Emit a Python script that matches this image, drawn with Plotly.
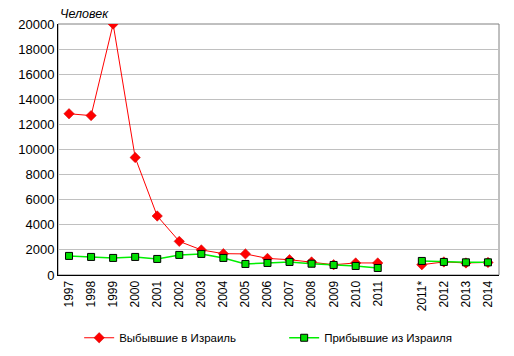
import plotly.graph_objects as go

categories = ["1997", "1998", "1999", "2000", "2001", "2002", "2003", "2004", "2005",
              "2006", "2007", "2008", "2009", "2010", "2011", " ", "2011*", "2012", "2013", "2014"]
departed = [12850, 12700, 20000, 9360, 4700, 2680, 2000, 1700, 1680,
            1320, 1220, 1040, 820, 960, 960, None, 820, 1040, 960, 1000]
arrived = [1520, 1440, 1360, 1440, 1280, 1600, 1680, 1360, 880,
           960, 1040, 900, 800, 720, 560, None, 1120, 1040, 1010, 1010]
y_ticks = list(range(0, 20001, 2000))
y_tick_labels = [str(v) for v in y_ticks]

font = "Liberation Sans, Arial, sans-serif"

fig = go.Figure()
fig.add_trace(go.Scatter(
    x=categories, y=departed, name="Выбывшие в Израиль", mode="lines+markers",
    line=dict(color="#ff0000", width=1),
    marker=dict(symbol="diamond", size=8, color="#ff0000", line=dict(color="#cc0000", width=0.5)),
    connectgaps=False,
))
fig.add_trace(go.Scatter(
    x=categories, y=arrived, name="Прибывшие из Израиля", mode="lines+markers",
    line=dict(color="#00ee00", width=1.5),
    marker=dict(symbol="square", size=7, color="#00e000", line=dict(color="#000000", width=1)),
    connectgaps=False,
))

fig.add_shape(type="rect", xref="paper", yref="paper", x0=0, x1=1, y0=0, y1=1,
              line=dict(color="#808080", width=1), layer="below")

fig.update_layout(
    width=506, height=348,
    margin=dict(l=50, r=15, t=16, b=81, autoexpand=False),
    paper_bgcolor="white", plot_bgcolor="white",
    font=dict(family=font, size=12, color="black"),
    showlegend=True,
    legend=dict(orientation="h", x=0.048, xanchor="left", y=-0.25, yanchor="middle",
                font=dict(size=11.5), entrywidth=160, itemwidth=30),
    annotations=[dict(text="<i>Человек</i>", xref="paper", yref="paper", x=0, y=1,
                      xanchor="left", yanchor="bottom", showarrow=False,
                      font=dict(size=12.5), yshift=1)],
)
fig.update_xaxes(type="category", categoryorder="array", categoryarray=categories,
                 tickangle=-90, tickfont=dict(size=12), showgrid=False, automargin=False,
                 showline=True, linecolor="black", linewidth=1, ticks="", range=[-0.5, 19.5])
fig.update_yaxes(range=[0, 20000], tickvals=y_ticks, ticktext=y_tick_labels, showgrid=True,
                 gridcolor="#c0c0c0", automargin=False,
                 gridwidth=1, showline=True, linecolor="black", linewidth=1, zeroline=False,
                 tickfont=dict(size=13), ticks="")

fig.write_html("out.html")
